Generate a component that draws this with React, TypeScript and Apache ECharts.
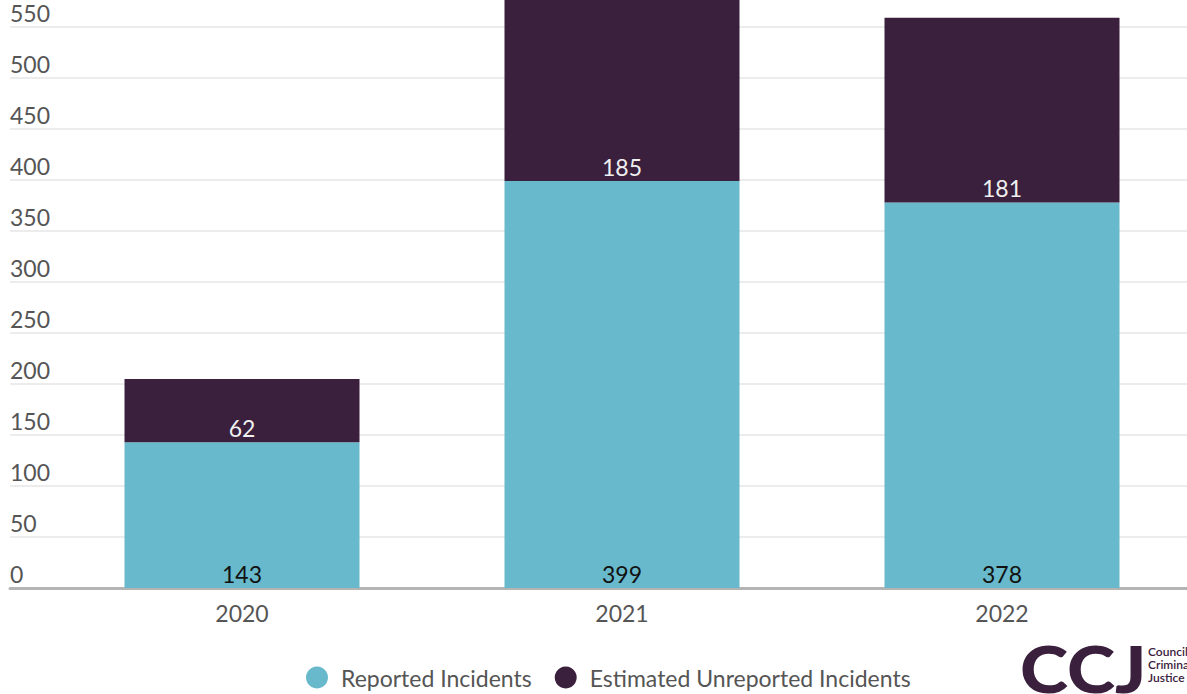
import React, { useEffect, useRef } from "react";
import * as echarts from "echarts";

const categories = ["2020", "2021", "2022"];
const reported = [143, 399, 378];
const unreported = [62, 185, 181];
const seriesNames = ["Reported Incidents", "Estimated Unreported Incidents"];
const colors = ["#67b9cb", "#3a203d"];

const OFF = 24; // chart div is shifted up so that the top of the scale is cut off

export default function App() {
  const ref = useRef<HTMLDivElement>(null);
  useEffect(() => {
    document.body.style.margin = "0";
    document.body.style.overflow = "hidden";
    const chart = echarts.init(ref.current!, undefined, { renderer: "svg" });
    const font = "Lato";
    chart.setOption({
      animation: false,
      textStyle: { fontFamily: font },
      grid: [
        { left: 10, right: 0, top: 0, bottom: 106, outerBoundsMode: "none", containLabel: false },
        { left: 52, right: -5, top: 0, bottom: 106, outerBoundsMode: "none", containLabel: false },
      ],
      xAxis: [
        {
          gridIndex: 0,
          type: "category",
          data: [""],
          axisLine: { show: true, lineStyle: { color: "#b4b4b4", width: 3 } },
          axisTick: { show: false },
          axisLabel: { show: false },
        },
        {
          gridIndex: 1,
          type: "category",
          data: categories,
          axisLine: { show: false },
          axisTick: { show: false },
          axisLabel: { color: "#555", fontSize: 23, margin: 13, fontFamily: font },
        },
      ],
      yAxis: [
        {
          gridIndex: 0,
          type: "value",
          min: 0,
          max: 600,
          interval: 50,
          axisLine: { show: false },
          axisTick: { show: false },
          splitLine: { lineStyle: { color: "#ececec", width: 2 } },
          axisLabel: {
            inside: true,
            margin: 0,
            color: "#555",
            fontSize: 23,
            fontFamily: font,
            verticalAlign: "bottom",
            padding: [0, 0, 3, 0],
          },
        },
        {
          gridIndex: 1,
          type: "value",
          min: 0,
          max: 600,
          interval: 50,
          show: false,
          splitLine: { show: false },
        },
      ],
      legend: {
        left: 301,
        top: 661 + OFF,
        icon: "circle",
        itemWidth: 22,
        itemHeight: 22,
        itemGap: 23,
        textStyle: { color: "#555", fontSize: 23, fontFamily: font, padding: [0, 0, 0, 8] },
        data: seriesNames,
      },
      series: [
        {
          name: seriesNames[0],
          type: "bar",
          stack: "total",
          xAxisIndex: 1,
          yAxisIndex: 1,
          barWidth: 235,
          itemStyle: { color: colors[0] },
          data: reported,
          label: {
            show: true,
            position: "insideBottom",
            distance: 3,
            color: "#111",
            fontSize: 23,
            fontFamily: font,
          },
        },
        {
          name: seriesNames[1],
          type: "bar",
          stack: "total",
          xAxisIndex: 1,
          yAxisIndex: 1,
          barWidth: 235,
          itemStyle: { color: colors[1] },
          data: unreported,
          label: {
            show: true,
            position: "insideBottom",
            distance: 3,
            color: "#f0f0f0",
            fontSize: 23,
            fontFamily: font,
          },
        },
      ],
      graphic: [
        {
          type: "text",
          x: 1020,
          y: 668 + OFF,
          scaleX: 1.14,
          style: {
            text: "CCJ",
            font: "900 64px Lato",
            lineHeight: 46,
            verticalAlign: "middle",
            fill: "#3a203d",
          },
        },
        {
          type: "text",
          x: 1148,
          y: 645 + OFF,
          style: {
            text: "Council on\nCriminal\nJustice",
            font: "600 12px Lato",
            lineHeight: 13,
            fill: "#3a203d",
          },
        },
      ],
    });
    return () => chart.dispose();
  }, []);
  return (
    <div
      ref={ref}
      style={{ position: "absolute", left: 0, top: -OFF, width: 1187, height: 694 + OFF }}
    />
  );
}
